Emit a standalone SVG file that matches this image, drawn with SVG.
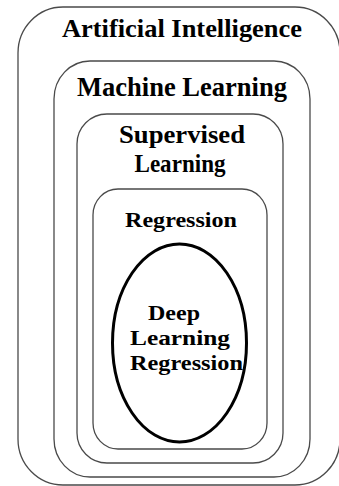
<svg xmlns="http://www.w3.org/2000/svg" width="339" height="486" viewBox="0 0 339 486">
  <style>
    .box { fill: none; stroke: #4a4a4a; stroke-width: 1.3; }
    .core { fill: #ffffff; stroke: #000000; stroke-width: 3; }
    .lbl { font-family: "Liberation Serif", "Times New Roman", serif; font-weight: bold; fill: #000000; text-anchor: middle; }
  </style>
  <rect width="339" height="486" fill="#ffffff"/>

  <!-- nested fields, outermost first -->
  <g id="artificial-intelligence">
    <rect class="box" x="18" y="7" width="322" height="478" rx="45" ry="46"/>
    <text class="lbl" x="182" y="37" font-size="25" textLength="240" lengthAdjust="spacingAndGlyphs">Artificial Intelligence</text>
  </g>

  <g id="machine-learning">
    <rect class="box" x="54" y="61" width="256" height="416" rx="36" ry="38"/>
    <text class="lbl" x="182" y="96" font-size="27" textLength="210" lengthAdjust="spacingAndGlyphs">Machine Learning</text>
  </g>

  <g id="supervised-learning">
    <rect class="box" x="77" y="114" width="206" height="349" rx="30" ry="30"/>
    <text class="lbl" x="182" y="143" font-size="26" textLength="126" lengthAdjust="spacingAndGlyphs">Supervised</text>
    <text class="lbl" x="180" y="172" font-size="26" textLength="91" lengthAdjust="spacingAndGlyphs">Learning</text>
  </g>

  <g id="regression">
    <rect class="box" x="93" y="189" width="174" height="260" rx="25" ry="26"/>
    <text class="lbl" x="181" y="227" font-size="22" textLength="112" lengthAdjust="spacingAndGlyphs">Regression</text>
  </g>

  <g id="deep-learning-regression">
    <ellipse class="core" cx="179.5" cy="343" rx="67" ry="99"/>
    <text class="lbl" x="174" y="320" font-size="22" textLength="52" lengthAdjust="spacingAndGlyphs">Deep</text>
    <text class="lbl" x="180" y="345" font-size="22" textLength="100" lengthAdjust="spacingAndGlyphs">Learning</text>
    <text class="lbl" x="186.5" y="370" font-size="22" textLength="113" lengthAdjust="spacingAndGlyphs">Regression</text>
  </g>

  <g id="connectors"/>
</svg>
